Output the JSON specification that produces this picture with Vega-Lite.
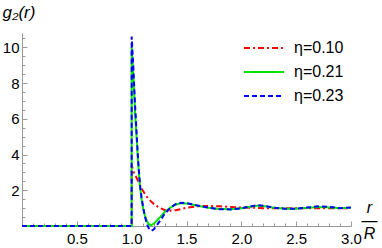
{
  "$schema": "https://vega.github.io/schema/vega-lite/v6.json",
  "width": 329,
  "height": 193,
  "autosize": {"type": "none"},
  "padding": {"left": 22, "top": 33, "right": 31, "bottom": 22},
  "background": "white",
  "config": {"view": {"stroke": null}, "font": "Liberation Sans"},
  "data": {"values": [
    {"eta": "η=0.10", "i": 0, "r": 0, "g": 0},
    {"eta": "η=0.10", "i": 1, "r": 1.0, "g": 0},
    {"eta": "η=0.10", "i": 2, "r": 1.0, "g": 3.4},
    {"eta": "η=0.10", "i": 3, "r": 1.02, "g": 3.0},
    {"eta": "η=0.10", "i": 4, "r": 1.045, "g": 2.7},
    {"eta": "η=0.10", "i": 5, "r": 1.07, "g": 2.35},
    {"eta": "η=0.10", "i": 6, "r": 1.1, "g": 2.0},
    {"eta": "η=0.10", "i": 7, "r": 1.13, "g": 1.7},
    {"eta": "η=0.10", "i": 8, "r": 1.17, "g": 1.42},
    {"eta": "η=0.10", "i": 9, "r": 1.21, "g": 1.18},
    {"eta": "η=0.10", "i": 10, "r": 1.26, "g": 1.0},
    {"eta": "η=0.10", "i": 11, "r": 1.3, "g": 0.9},
    {"eta": "η=0.10", "i": 12, "r": 1.35, "g": 0.86},
    {"eta": "η=0.10", "i": 13, "r": 1.4, "g": 0.88},
    {"eta": "η=0.10", "i": 14, "r": 1.45, "g": 0.95},
    {"eta": "η=0.10", "i": 15, "r": 1.5, "g": 1.02},
    {"eta": "η=0.10", "i": 16, "r": 1.6, "g": 1.1},
    {"eta": "η=0.10", "i": 17, "r": 1.7, "g": 1.12},
    {"eta": "η=0.10", "i": 18, "r": 1.8, "g": 1.1},
    {"eta": "η=0.10", "i": 19, "r": 1.9, "g": 1.07},
    {"eta": "η=0.10", "i": 20, "r": 2.0, "g": 1.04},
    {"eta": "η=0.10", "i": 21, "r": 2.2, "g": 1.0},
    {"eta": "η=0.10", "i": 22, "r": 2.4, "g": 0.99},
    {"eta": "η=0.10", "i": 23, "r": 2.6, "g": 1.0},
    {"eta": "η=0.10", "i": 24, "r": 2.8, "g": 1.0},
    {"eta": "η=0.10", "i": 25, "r": 3.0, "g": 1.0},

    {"eta": "η=0.21", "i": 0, "r": 0, "g": 0},
    {"eta": "η=0.21", "i": 1, "r": 1.0, "g": 0},
    {"eta": "η=0.21", "i": 2, "r": 1.0, "g": 10.0},
    {"eta": "η=0.21", "i": 3, "r": 1.015, "g": 8.4},
    {"eta": "η=0.21", "i": 4, "r": 1.03, "g": 6.5},
    {"eta": "η=0.21", "i": 5, "r": 1.045, "g": 4.9},
    {"eta": "η=0.21", "i": 6, "r": 1.06, "g": 3.4},
    {"eta": "η=0.21", "i": 7, "r": 1.076, "g": 2.2},
    {"eta": "η=0.21", "i": 8, "r": 1.09, "g": 1.5},
    {"eta": "η=0.21", "i": 9, "r": 1.106, "g": 0.95},
    {"eta": "η=0.21", "i": 10, "r": 1.12, "g": 0.6},
    {"eta": "η=0.21", "i": 11, "r": 1.14, "g": 0.25},
    {"eta": "η=0.21", "i": 12, "r": 1.16, "g": 0.08},
    {"eta": "η=0.21", "i": 13, "r": 1.18, "g": 0.05},
    {"eta": "η=0.21", "i": 14, "r": 1.2, "g": 0.12},
    {"eta": "η=0.21", "i": 15, "r": 1.23, "g": 0.3},
    {"eta": "η=0.21", "i": 16, "r": 1.26, "g": 0.5},
    {"eta": "η=0.21", "i": 17, "r": 1.3, "g": 0.78},
    {"eta": "η=0.21", "i": 18, "r": 1.35, "g": 1.02},
    {"eta": "η=0.21", "i": 19, "r": 1.4, "g": 1.2},
    {"eta": "η=0.21", "i": 20, "r": 1.45, "g": 1.27},
    {"eta": "η=0.21", "i": 21, "r": 1.5, "g": 1.26},
    {"eta": "η=0.21", "i": 22, "r": 1.55, "g": 1.2},
    {"eta": "η=0.21", "i": 23, "r": 1.6, "g": 1.14},
    {"eta": "η=0.21", "i": 24, "r": 1.7, "g": 1.02},
    {"eta": "η=0.21", "i": 25, "r": 1.8, "g": 0.95},
    {"eta": "η=0.21", "i": 26, "r": 1.9, "g": 0.94},
    {"eta": "η=0.21", "i": 27, "r": 2.0, "g": 0.99},
    {"eta": "η=0.21", "i": 28, "r": 2.07, "g": 1.07},
    {"eta": "η=0.21", "i": 29, "r": 2.15, "g": 1.14},
    {"eta": "η=0.21", "i": 30, "r": 2.22, "g": 1.1},
    {"eta": "η=0.21", "i": 31, "r": 2.3, "g": 1.02},
    {"eta": "η=0.21", "i": 32, "r": 2.4, "g": 0.97},
    {"eta": "η=0.21", "i": 33, "r": 2.5, "g": 0.97},
    {"eta": "η=0.21", "i": 34, "r": 2.6, "g": 1.02},
    {"eta": "η=0.21", "i": 35, "r": 2.7, "g": 1.06},
    {"eta": "η=0.21", "i": 36, "r": 2.8, "g": 1.04},
    {"eta": "η=0.21", "i": 37, "r": 2.9, "g": 1.0},
    {"eta": "η=0.21", "i": 38, "r": 3.0, "g": 1.02},

    {"eta": "η=0.23", "i": 0, "r": 0, "g": 0},
    {"eta": "η=0.23", "i": 1, "r": 1.0, "g": 0},
    {"eta": "η=0.23", "i": 2, "r": 1.0, "g": 10.6},
    {"eta": "η=0.23", "i": 3, "r": 1.015, "g": 8.9},
    {"eta": "η=0.23", "i": 4, "r": 1.03, "g": 6.9},
    {"eta": "η=0.23", "i": 5, "r": 1.045, "g": 5.2},
    {"eta": "η=0.23", "i": 6, "r": 1.06, "g": 3.6},
    {"eta": "η=0.23", "i": 7, "r": 1.076, "g": 2.3},
    {"eta": "η=0.23", "i": 8, "r": 1.09, "g": 1.6},
    {"eta": "η=0.23", "i": 9, "r": 1.106, "g": 1.0},
    {"eta": "η=0.23", "i": 10, "r": 1.12, "g": 0.55},
    {"eta": "η=0.23", "i": 11, "r": 1.14, "g": 0.1},
    {"eta": "η=0.23", "i": 12, "r": 1.16, "g": -0.18},
    {"eta": "η=0.23", "i": 13, "r": 1.18, "g": -0.26},
    {"eta": "η=0.23", "i": 14, "r": 1.2, "g": -0.2},
    {"eta": "η=0.23", "i": 15, "r": 1.23, "g": 0.05},
    {"eta": "η=0.23", "i": 16, "r": 1.26, "g": 0.3},
    {"eta": "η=0.23", "i": 17, "r": 1.3, "g": 0.68},
    {"eta": "η=0.23", "i": 18, "r": 1.35, "g": 1.0},
    {"eta": "η=0.23", "i": 19, "r": 1.4, "g": 1.22},
    {"eta": "η=0.23", "i": 20, "r": 1.45, "g": 1.3},
    {"eta": "η=0.23", "i": 21, "r": 1.5, "g": 1.28},
    {"eta": "η=0.23", "i": 22, "r": 1.55, "g": 1.22},
    {"eta": "η=0.23", "i": 23, "r": 1.6, "g": 1.15},
    {"eta": "η=0.23", "i": 24, "r": 1.7, "g": 1.03},
    {"eta": "η=0.23", "i": 25, "r": 1.8, "g": 0.94},
    {"eta": "η=0.23", "i": 26, "r": 1.9, "g": 0.93},
    {"eta": "η=0.23", "i": 27, "r": 2.0, "g": 0.99},
    {"eta": "η=0.23", "i": 28, "r": 2.07, "g": 1.08},
    {"eta": "η=0.23", "i": 29, "r": 2.15, "g": 1.17},
    {"eta": "η=0.23", "i": 30, "r": 2.22, "g": 1.12},
    {"eta": "η=0.23", "i": 31, "r": 2.3, "g": 1.02},
    {"eta": "η=0.23", "i": 32, "r": 2.4, "g": 0.96},
    {"eta": "η=0.23", "i": 33, "r": 2.5, "g": 0.97},
    {"eta": "η=0.23", "i": 34, "r": 2.6, "g": 1.03},
    {"eta": "η=0.23", "i": 35, "r": 2.7, "g": 1.1},
    {"eta": "η=0.23", "i": 36, "r": 2.8, "g": 1.07},
    {"eta": "η=0.23", "i": 37, "r": 2.9, "g": 1.0},
    {"eta": "η=0.23", "i": 38, "r": 3.0, "g": 1.03}
  ]},
  "mark": {"type": "line", "strokeWidth": 2, "clip": false},
  "encoding": {
    "x": {
      "field": "r", "type": "quantitative",
      "scale": {"domain": [0, 3], "nice": false, "zero": false},
      "axis": {
        "values": [0.1,0.2,0.3,0.4,0.5,0.6,0.7,0.8,0.9,1.0,1.1,1.2,1.3,1.4,1.5,1.6,1.7,1.8,1.9,2.0,2.1,2.2,2.3,2.4,2.5,2.6,2.7,2.8,2.9,3.0],
        "labelExpr": "abs(datum.value*2 - round(datum.value*2)) < 0.001 ? format(datum.value, '.1f') : ''",
        "tickSize": {"condition": {"test": "abs(datum.value*2 - round(datum.value*2)) < 0.001", "value": -5}, "value": -3},
        "labelPadding": 10,
        "labelFontSize": 15,
        "labelColor": "#000000",
        "labelFlush": false,
        "labelOverlap": false,
        "domainColor": "#999999",
        "tickColor": "#999999",
        "grid": false,
        "title": ["r", "—", "R"],
        "titleFontSize": 16,
        "titleFontStyle": "italic",
        "titleFontWeight": "normal",
        "titleLineHeight": 13,
        "titleAlign": "center",
        "titleBaseline": "middle",
        "titleX": 347,
        "titleY": -19,
        "titleColor": "#000000"
      }
    },
    "y": {
      "field": "g", "type": "quantitative",
      "scale": {"domain": [0, 10.8], "nice": false, "zero": false},
      "axis": {
        "values": [0.5,1,1.5,2,2.5,3,3.5,4,4.5,5,5.5,6,6.5,7,7.5,8,8.5,9,9.5,10,10.5],
        "labelExpr": "abs(datum.value/2 - round(datum.value/2)) < 0.001 ? format(datum.value, 'd') : ''",
        "tickSize": {"condition": {"test": "abs(datum.value/2 - round(datum.value/2)) < 0.001", "value": -5}, "value": -3},
        "labelPadding": 8,
        "labelFontSize": 15,
        "labelColor": "#000000",
        "labelOverlap": false,
        "labelFlush": false,
        "domainColor": "#999999",
        "tickColor": "#999999",
        "grid": false,
        "title": "g₂(r)",
        "titleFontSize": 17,
        "titleFontStyle": "italic",
        "titleFontWeight": "normal",
        "titleAngle": 0,
        "titleAlign": "left",
        "titleBaseline": "middle",
        "titleX": -20,
        "titleY": -21,
        "titleColor": "#000000"
      }
    },
    "color": {
      "field": "eta", "type": "nominal",
      "scale": {"domain": ["η=0.10", "η=0.21", "η=0.23"], "range": ["#ff0000", "#00e600", "#0000ff"]},
      "legend": {
        "title": null,
        "orient": "none",
        "legendX": 231,
        "legendY": 4,
        "padding": 0,
        "symbolType": "M-2,0H2",
        "symbolSize": 400,
        "symbolStrokeWidth": 2,
        "labelOffset": 19,
        "labelFontSize": 16,
        "labelColor": "#000000",
        "rowPadding": 5
      }
    },
    "strokeDash": {
      "field": "eta", "type": "nominal",
      "scale": {"domain": ["η=0.10", "η=0.21", "η=0.23"], "range": [[6, 3, 2, 3], [1, 0], [5, 3]]},
      "legend": null
    },
    "order": {"field": "i", "type": "quantitative"}
  }
}
